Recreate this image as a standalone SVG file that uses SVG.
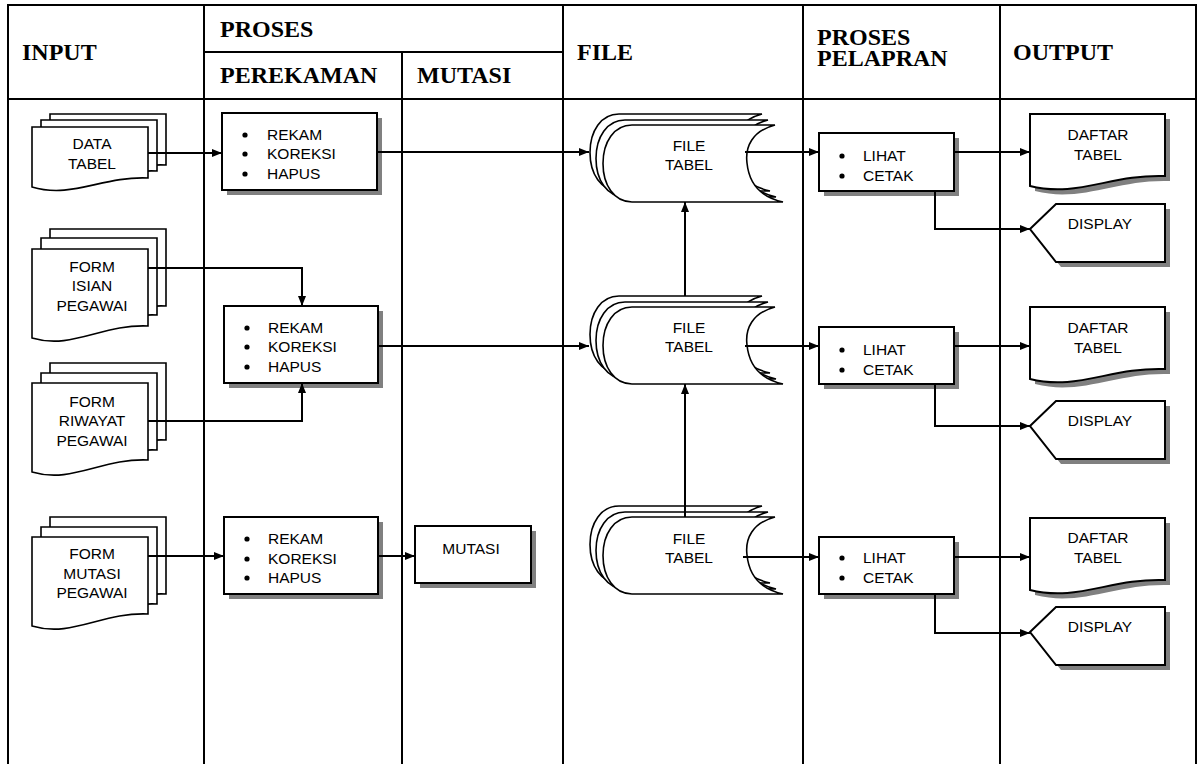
<svg xmlns="http://www.w3.org/2000/svg" xmlns:xlink="http://www.w3.org/1999/xlink" width="1202" height="764" viewBox="0 0 1202 764">
<style>
.tbl{stroke:#000;stroke-width:2;fill:none}
.hdr{font-family:"Liberation Serif","Times New Roman",serif;font-weight:bold;font-size:24px;fill:#000}
.t{font-family:"Liberation Sans",Arial,sans-serif;font-size:15.5px;fill:#000}
.c{text-anchor:middle}
.box{fill:#fff;stroke:#000;stroke-width:2}
.sh{fill:#808080;stroke:none}
.doc{fill:#fff;stroke:#000;stroke-width:1.6}
.conn{fill:none;stroke:#000;stroke-width:2;marker-end:url(#ah)}
.line{fill:none;stroke:#000;stroke-width:2}
</style>
<defs>
<marker id="ah" markerWidth="10" markerHeight="8" refX="10" refY="4" orient="auto" markerUnits="userSpaceOnUse"><path d="M0,0 L10,4 L0,8 Z" fill="#000"/></marker>
<path id="docS" d="M0,0 H116 V51 C70,49 40,72 0,60 Z"/>
<path id="docL" d="M0,0 H116 V77 C70,75 40,101 0,89 Z"/>
<path id="docO" d="M0,0 H135 V62 C81,60 47,84 0,72 Z"/>
<path id="disp" d="M0,25 L26,0 H135 V58 H26 Z"/>
<path id="file" d="M0,0 H143 C120,6 113,22 115,38 C117,58 128,72 151,77 H0 C-18,77 -29,60 -29,38.5 C-29,17 -18,0 0,0 Z"/>
<circle id="bul" r="2.6" fill="#000"/>
</defs>
<rect width="1202" height="764" fill="#fff"/>
<g id="table">
<path class="tbl" d="M8,764 V5 H1196 V764 M204,5 V764 M402,52 V764 M563,5 V764 M803,5 V764 M1000,5 V764 M204,52 H563 M8,99 H1196"/>
<text class="hdr" x="22" y="60">INPUT</text>
<text class="hdr" x="220" y="37">PROSES</text>
<text class="hdr" x="220" y="83">PEREKAMAN</text>
<text class="hdr" x="417" y="83">MUTASI</text>
<text class="hdr" x="577" y="60">FILE</text>
<text class="hdr" x="817" y="45">PROSES</text>
<text class="hdr" x="817" y="66">PELAPRAN</text>
<text class="hdr" x="1013" y="60">OUTPUT</text>
</g>
<g id="in-data-tabel">
<use href="#docS" class="doc" x="50" y="114"/>
<use href="#docS" class="doc" x="41" y="120"/>
<use href="#docS" class="doc" x="32" y="127"/>
<text class="t c" x="92" y="149">DATA</text>
<text class="t c" x="92" y="169">TABEL</text>
</g>
<g id="in-form-isian">
<use href="#docL" class="doc" x="50" y="229"/>
<use href="#docL" class="doc" x="41" y="238"/>
<use href="#docL" class="doc" x="32" y="249"/>
<text class="t c" x="92" y="272">FORM</text>
<text class="t c" x="92" y="291">ISIAN</text>
<text class="t c" x="92" y="311">PEGAWAI</text>
</g>
<g id="in-form-riwayat">
<use href="#docL" class="doc" x="50" y="363"/>
<use href="#docL" class="doc" x="41" y="373"/>
<use href="#docL" class="doc" x="32" y="383"/>
<text class="t c" x="92" y="407">FORM</text>
<text class="t c" x="92" y="426">RIWAYAT</text>
<text class="t c" x="92" y="446">PEGAWAI</text>
</g>
<g id="in-form-mutasi">
<use href="#docL" class="doc" x="50" y="517"/>
<use href="#docL" class="doc" x="41" y="527"/>
<use href="#docL" class="doc" x="32" y="537"/>
<text class="t c" x="92" y="559">FORM</text>
<text class="t c" x="92" y="579">MUTASI</text>
<text class="t c" x="92" y="598">PEGAWAI</text>
</g>
<g id="rekam-1">
<rect class="sh" x="227" y="118" width="155" height="77"/>
<rect class="box" x="222" y="113" width="155" height="77"/>
<use href="#bul" x="245" y="135"/><use href="#bul" x="245" y="154"/><use href="#bul" x="245" y="174"/>
<text class="t" x="267" y="140">REKAM</text>
<text class="t" x="267" y="159">KOREKSI</text>
<text class="t" x="267" y="179">HAPUS</text>
</g>
<g id="rekam-2">
<rect class="sh" x="229" y="311" width="154" height="77"/>
<rect class="box" x="224" y="306" width="154" height="77"/>
<use href="#bul" x="247" y="328"/><use href="#bul" x="247" y="347"/><use href="#bul" x="247" y="367"/>
<text class="t" x="268" y="333">REKAM</text>
<text class="t" x="268" y="352">KOREKSI</text>
<text class="t" x="268" y="372">HAPUS</text>
</g>
<g id="rekam-3">
<rect class="sh" x="229" y="522" width="154" height="77"/>
<rect class="box" x="224" y="517" width="154" height="77"/>
<use href="#bul" x="247" y="539"/><use href="#bul" x="247" y="559"/><use href="#bul" x="247" y="578"/>
<text class="t" x="268" y="544">REKAM</text>
<text class="t" x="268" y="564">KOREKSI</text>
<text class="t" x="268" y="583">HAPUS</text>
</g>
<g id="mutasi">
<rect class="sh" x="420" y="531" width="116" height="57"/>
<rect class="box" x="415" y="526" width="116" height="57"/>
<text class="t c" x="471" y="554">MUTASI</text>
</g>
<g id="file-1">
<use href="#file" class="doc" x="619" y="114"/>
<use href="#file" class="doc" x="625" y="120"/>
<use href="#file" class="doc" x="632" y="125"/>
<text class="t c" x="689" y="151">FILE</text>
<text class="t c" x="689" y="170">TABEL</text>
</g>
<g id="file-2">
<use href="#file" class="doc" x="619" y="296"/>
<use href="#file" class="doc" x="625" y="302"/>
<use href="#file" class="doc" x="632" y="307"/>
<text class="t c" x="689" y="333">FILE</text>
<text class="t c" x="689" y="352">TABEL</text>
</g>
<g id="file-3">
<use href="#file" class="doc" x="619" y="506"/>
<use href="#file" class="doc" x="625" y="512"/>
<use href="#file" class="doc" x="632" y="517"/>
<text class="t c" x="689" y="544">FILE</text>
<text class="t c" x="689" y="563">TABEL</text>
</g>
<g id="lihat-1">
<rect class="sh" x="824" y="138" width="135" height="58"/>
<rect class="box" x="819" y="133" width="135" height="58"/>
<use href="#bul" x="842" y="156"/><use href="#bul" x="842" y="176"/>
<text class="t" x="863" y="161">LIHAT</text>
<text class="t" x="863" y="181">CETAK</text>
</g>
<g id="lihat-2">
<rect class="sh" x="824" y="332" width="135" height="57"/>
<rect class="box" x="819" y="327" width="135" height="57"/>
<use href="#bul" x="842" y="350"/><use href="#bul" x="842" y="370"/>
<text class="t" x="863" y="355">LIHAT</text>
<text class="t" x="863" y="375">CETAK</text>
</g>
<g id="lihat-3">
<rect class="sh" x="824" y="542" width="135" height="57"/>
<rect class="box" x="819" y="537" width="135" height="57"/>
<use href="#bul" x="842" y="558"/><use href="#bul" x="842" y="578"/>
<text class="t" x="863" y="563">LIHAT</text>
<text class="t" x="863" y="583">CETAK</text>
</g>
<g id="daftar-1">
<use href="#docO" class="sh" x="1035" y="119"/>
<use href="#docO" class="box" x="1030" y="114"/>
<text class="t c" x="1098" y="140">DAFTAR</text>
<text class="t c" x="1098" y="160">TABEL</text>
</g>
<g id="daftar-2">
<use href="#docO" class="sh" x="1035" y="312"/>
<use href="#docO" class="box" x="1030" y="307"/>
<text class="t c" x="1098" y="333">DAFTAR</text>
<text class="t c" x="1098" y="353">TABEL</text>
</g>
<g id="daftar-3">
<use href="#docO" class="sh" x="1035" y="523"/>
<use href="#docO" class="box" x="1030" y="518"/>
<text class="t c" x="1098" y="543">DAFTAR</text>
<text class="t c" x="1098" y="563">TABEL</text>
</g>
<g id="display-1">
<use href="#disp" class="sh" x="1035" y="209"/>
<use href="#disp" class="box" x="1030" y="204"/>
<text class="t c" x="1100" y="229">DISPLAY</text>
</g>
<g id="display-2">
<use href="#disp" class="sh" x="1035" y="406"/>
<use href="#disp" class="box" x="1030" y="401"/>
<text class="t c" x="1100" y="426">DISPLAY</text>
</g>
<g id="display-3">
<use href="#disp" class="sh" x="1035" y="612"/>
<use href="#disp" class="box" x="1030" y="607"/>
<text class="t c" x="1100" y="632">DISPLAY</text>
</g>
<g id="connectors">
<path class="conn" d="M148,153 H222"/>
<path class="conn" d="M148,268 H302 V306"/>
<path class="conn" d="M148,421 H302 V383"/>
<path class="conn" d="M148,556 H224"/>
<path class="conn" d="M378,556 H415"/>
<path class="conn" d="M377,152 H589"/>
<path class="conn" d="M378,346 H589"/>
<path class="conn" d="M685,296 V202"/>
<path class="conn" d="M685,517 V384"/>
<path class="conn" d="M745,152 H819"/>
<path class="conn" d="M745,346 H819"/>
<path class="conn" d="M743,557 H819"/>
<path class="conn" d="M954,152 H1030"/>
<path class="conn" d="M935,191 V229 H1030"/>
<path class="conn" d="M954,346 H1030"/>
<path class="conn" d="M935,384 V426 H1030"/>
<path class="conn" d="M954,557 H1030"/>
<path class="conn" d="M935,594 V633 H1030"/>
</g>
</svg>
